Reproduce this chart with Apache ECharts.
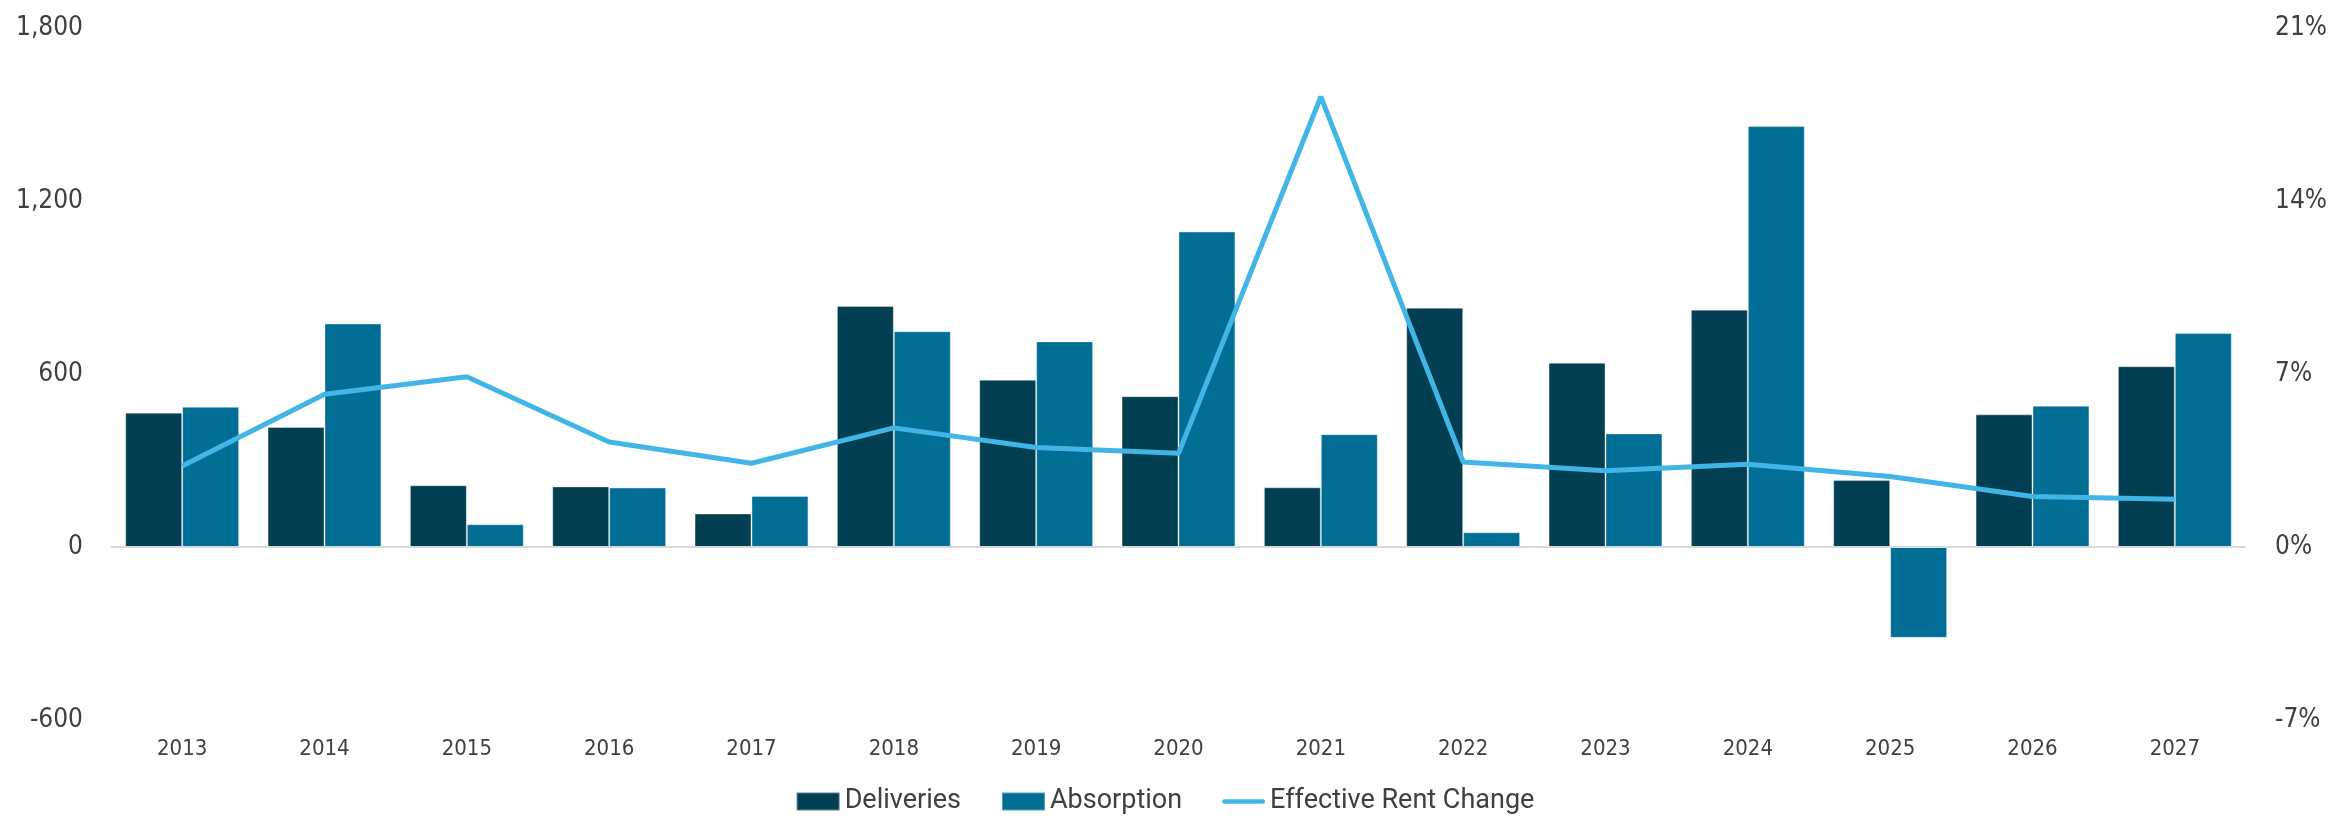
<!DOCTYPE html>
<html>
<head>
<meta charset="utf-8">
<script src="https://cdn.jsdelivr.net/npm/echarts@6/dist/echarts.min.js"></script>
<style>
html,body{margin:0;padding:0;background:#fff;}
#chart{width:2330px;height:823px;}
</style>
</head>
<body>
<div id="chart"></div>
<script>
const years = ['2013','2014','2015','2016','2017','2018','2019','2020','2021','2022','2023','2024','2025','2026','2027'];
const deliveries = [466, 416, 214, 210, 116, 836, 580, 523, 207, 830, 639, 823, 232, 460, 627];
const absorption = [486, 775, 79, 206, 177, 748, 713, 1094, 391, 51, 394, 1460, -315, 490, 742];
const rentChange = [3.28, 6.18, 6.89, 4.25, 3.39, 4.82, 4.03, 3.79, 18.22, 3.44, 3.09, 3.35, 2.85, 2.04, 1.93];
const leftTicks = { min: -600, max: 1800, interval: 600 };
const rightTicks = { min: -7, max: 21, interval: 7 };

const axisFont = '"Liberation Sans Narrow", "DejaVu Sans Condensed", Roboto, sans-serif';
const textColor = '#404040';

const chart = echarts.init(document.getElementById('chart'));
chart.setOption({
  backgroundColor: '#fff',
  animation: false,
  grid: { left: 111, right: 84, top: 28, bottom: 103, containLabel: false },
  legend: {
    bottom: 3,
    left: 'center',
    itemGap: 40,
    itemWidth: 43,
    itemHeight: 18,
    textStyle: { fontFamily: 'Roboto, sans-serif', fontSize: 27, color: textColor },
    data: [
      { name: 'Deliveries', icon: 'rect' },
      { name: 'Absorption', icon: 'rect' },
      { name: 'Effective Rent Change',
        icon: 'path://M2.5,0 L43.5,0 A2.5,2.5 0 0 1 43.5,5 L2.5,5 A2.5,2.5 0 0 1 2.5,0 Z',
        itemStyle: { color: '#41b6e6' } }
    ]
  },
  xAxis: {
    type: 'category',
    data: years,
    axisLine: { show: false, onZero: false },
    axisTick: { show: false },
    axisLabel: { fontFamily: axisFont, fontSize: 22, color: textColor, margin: 18 }
  },
  yAxis: [
    {
      type: 'value',
      min: leftTicks.min, max: leftTicks.max, interval: leftTicks.interval,
      splitLine: { show: false },
      axisLine: { show: false },
      axisTick: { show: false },
      axisLabel: {
        fontFamily: axisFont, fontSize: 26, color: textColor, margin: 28,
        formatter: v => v.toLocaleString('en-US')
      }
    },
    {
      type: 'value',
      min: rightTicks.min, max: rightTicks.max, interval: rightTicks.interval,
      splitLine: { show: false },
      axisLine: { show: false },
      axisTick: { show: false },
      axisLabel: {
        fontFamily: axisFont, fontSize: 26, color: textColor, margin: 29,
        formatter: '{value}%'
      }
    }
  ],
  series: [
    {
      name: 'Deliveries',
      type: 'bar',
      data: deliveries,
      barGap: '0%',
      barCategoryGap: '20%',
      itemStyle: { color: '#023f53', borderColor: 'rgba(255,255,255,0.35)', borderWidth: 1 },
      markLine: {
        silent: true,
        symbol: 'none',
        label: { show: false },
        lineStyle: { color: '#d9d9d9', type: 'solid', width: 2 },
        data: [{ yAxis: 0 }]
      },
      z: 2
    },
    {
      name: 'Absorption',
      type: 'bar',
      data: absorption,
      barGap: '0%',
      barCategoryGap: '20%',
      itemStyle: { color: '#016f95', borderColor: 'rgba(255,255,255,0.35)', borderWidth: 1 },
      z: 2
    },
    {
      name: 'Effective Rent Change',
      type: 'line',
      yAxisIndex: 1,
      data: rentChange,
      symbol: 'none',
      lineStyle: { color: '#41b6e6', width: 5 },
      itemStyle: { color: '#41b6e6' },
      z: 5
    }
  ]
});
</script>
</body>
</html>
